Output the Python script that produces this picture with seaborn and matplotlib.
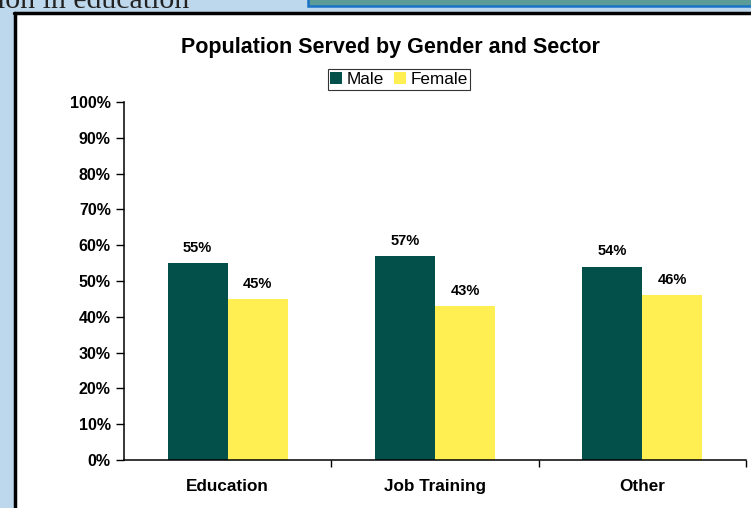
import numpy as np
import pandas as pd
import matplotlib
matplotlib.use("Agg")
import matplotlib.pyplot as plt
from matplotlib.patches import Rectangle, Patch
import seaborn as sns

SECTORS = ["Education", "Job Training", "Other"]
GENDERS = ["Male", "Female"]
MALE = [55, 57, 54]
FEMALE = [45, 43, 46]
Y_TICKS = [0, 10, 20, 30, 40, 50, 60, 70, 80, 90, 100]

COLORS = {"Male": "#03504A", "Female": "#FFEF52"}
SLIDE_BG = "#BDD7EC"

df = pd.DataFrame({
    "sector": SECTORS * 2,
    "gender": ["Male"] * len(SECTORS) + ["Female"] * len(SECTORS),
    "value": MALE + FEMALE,
})

sns.set_style("white")
plt.rcParams["font.family"] = ["Liberation Sans", "DejaVu Sans"]
plt.rcParams["text.color"] = "black"
plt.rcParams["xtick.color"] = "black"
plt.rcParams["ytick.color"] = "black"

W, H = 751, 508
fig = plt.figure(figsize=(W / 100, H / 100), dpi=100)
fig.patch.set_facecolor(SLIDE_BG)


def fx(px):
    return px / W


def fy(py):
    return 1 - py / H


# white chart panel with black frame on left/top
fig.patches.append(Rectangle((fx(15), 0), 1, fy(13), transform=fig.transFigure,
                             facecolor="white", edgecolor="none", zorder=-2))
fig.add_artist(plt.Line2D([fx(15), fx(15)], [0, fy(13)], transform=fig.transFigure,
                          color="black", lw=2.5))
fig.add_artist(plt.Line2D([fx(14), 1], [fy(13), fy(13)], transform=fig.transFigure,
                          color="black", lw=2.5))
# box at top right of the slide
fig.patches.append(Rectangle((fx(308), fy(5.5)), 1, 0.05, transform=fig.transFigure,
                             facecolor="#5B9B98", edgecolor="#1A72C6", lw=1.8, zorder=-1))
# slide text, clipped at top
fig.text(fx(-3), fy(8), "ion in education", family=["Liberation Serif", "DejaVu Serif"],
         fontsize=21.5, color="#222222", va="baseline", ha="left")

ax = fig.add_axes([fx(124), fy(460), fx(746) - fx(124), fy(102) - fy(460)])
ax.set_facecolor("none")
sns.barplot(data=df, x="sector", y="value", hue="gender", hue_order=GENDERS,
            palette=COLORS, order=SECTORS, width=0.58, saturation=1,
            edgecolor="none", linewidth=0, legend=False, ax=ax)

for cont in ax.containers:
    ax.bar_label(cont, labels=[f"{v:.0f}%" for v in cont.datavalues],
                 padding=6, fontsize=10.5, fontweight="bold")

ax.set_ylim(0, 100)
ax.set_yticks(Y_TICKS)
ax.set_yticklabels([f"{t}%" for t in Y_TICKS], fontsize=11.5, fontweight="bold")
ax.set_xlim(-0.5, len(SECTORS) - 0.5)
ax.set_xticks(np.arange(len(SECTORS)))
ax.set_xticklabels(SECTORS, fontsize=12.3, fontweight="bold")
ax.tick_params(axis="x", which="major", bottom=True, length=0, pad=14)
ax.set_xticks(np.arange(len(SECTORS)) + 0.5, minor=True)
ax.tick_params(axis="x", which="minor", bottom=True, length=5, width=1,
               direction="out", color="black")
ax.tick_params(axis="y", left=True, length=6, width=1, direction="out",
               color="black", pad=3.5)
ax.set_xlabel("")
ax.set_ylabel("")
for s in ["top", "right"]:
    ax.spines[s].set_visible(False)
for s in ["left", "bottom"]:
    ax.spines[s].set_color("black")
    ax.spines[s].set_linewidth(1.1)

fig.text(fx(390), fy(48), "Population Served by Gender and Sector",
         ha="center", va="center", fontsize=15.5, fontweight="bold")

handles = [Patch(facecolor=COLORS[g], edgecolor="none", label=g) for g in GENDERS]
leg = fig.legend(handles=handles, loc="center", bbox_to_anchor=(fx(399), fy(79.5)),
                 ncol=2, frameon=True, fancybox=False, fontsize=12.3,
                 handlelength=0.7, handleheight=0.7, handletextpad=0.25,
                 columnspacing=0.6, borderpad=0.15, borderaxespad=0)
leg.get_frame().set_edgecolor("black")
leg.get_frame().set_linewidth(0.8)

fig.savefig("out.png", dpi=100, facecolor=fig.get_facecolor())
